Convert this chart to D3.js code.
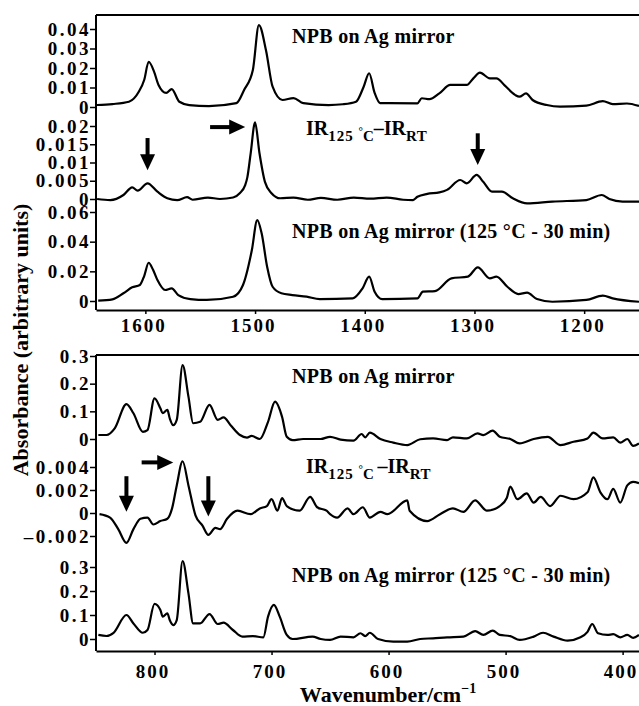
<!DOCTYPE html>
<html>
<head>
<meta charset="utf-8">
<script src="https://cdn.jsdelivr.net/npm/d3@7"></script>
<style>
  body { margin: 0; background: #fff; }
  svg text { font-family: "Liberation Serif", "Times New Roman", serif; font-weight: bold; fill: #000; }
</style>
</head>
<body>
<div id="spectra_dataviz"></div>
<script>
// spectra: [wavenumber, absorbance]

// upper panel (1645 - 1150 cm-1)
var npbTop = [
  [1645, 0.001], [1630, 0.0015], [1615, 0.0027], [1606, 0.0078], [1601, 0.014],
  [1597, 0.0232], [1592, 0.018], [1588, 0.0113], [1581, 0.0072], [1576, 0.0092],
  [1569, 0.0027], [1560, 0.001], [1542, 0.0005], [1517, 0.002], [1510, 0.0087],
  [1502, 0.019], [1496.5, 0.042], [1490, 0.029], [1484, 0.0104], [1475, 0.0036],
  [1465, 0.0046], [1456, 0.002], [1433, 0.001], [1420, 0.0014], [1408, 0.0027],
  [1401, 0.0104], [1396, 0.0173], [1391, 0.0072], [1386, 0.002], [1352, 0.0019],
  [1348, 0.0045], [1341, 0.004], [1332, 0.007], [1322, 0.0113], [1307, 0.0113],
  [1301, 0.0147], [1295, 0.0176], [1286, 0.0147], [1280, 0.0147], [1272, 0.0108],
  [1263, 0.0062], [1259, 0.0053], [1253, 0.007], [1247, 0.0036], [1234, 0.001],
  [1222, 0.0002], [1198, 0.0007], [1183, 0.003], [1174, 0.0015], [1161, 0.0018],
  [1150, 0.0005]
];
var diffTop = [
  [1644, 0], [1632, -0.0003], [1620, 0.0011], [1612, 0.0032], [1607, 0.0023],
  [1598, 0.0043], [1589, 0.002], [1580, 0.0002], [1571, -0.0003], [1562, 0.0005],
  [1557, -0.0002], [1543, 0.0004], [1532, 0], [1520, 0.0004], [1514, 0.0016],
  [1509, 0.0038], [1507, 0.006], [1504, 0.0125], [1500, 0.021], [1496, 0.0126],
  [1491, 0.0047], [1485, 0.0016], [1477, 0.0002], [1465, 0.0004], [1452, -0.0002],
  [1440, 0.0003], [1425, -0.0002], [1410, 0.0004], [1395, 0.0001], [1380, 0.0004],
  [1365, -0.0002], [1356, -0.0003], [1352, 0.0006], [1343, 0.0014], [1332, 0.0018],
  [1325, 0.0025], [1313, 0.0052], [1307, 0.0043], [1298, 0.0066], [1292, 0.0047],
  [1284, 0.002], [1275, 0.002], [1265, 0.0002], [1252, -0.0012], [1229, -0.0007],
  [1198, -0.0003], [1184, 0.0011], [1177, 0], [1165, -0.0007], [1150, -0.0007]
];
var heatTop = [
  [1643, 0.0002], [1630, 0.0011], [1620, 0.0052], [1612, 0.0092], [1605, 0.0108],
  [1601, 0.017], [1597, 0.0258], [1593, 0.021], [1589, 0.0141], [1582, 0.0074],
  [1576, 0.0085], [1570, 0.004], [1559, 0.0013], [1544, 0.0007], [1520, 0.0029],
  [1511, 0.0108], [1503, 0.034], [1498, 0.0545], [1494, 0.0456], [1489, 0.0231],
  [1484, 0.0096], [1476, 0.0052], [1466, 0.004], [1453, 0.0029], [1441, 0.0013],
  [1411, 0.0018], [1402, 0.0085], [1396, 0.0164], [1391, 0.0063], [1384, 0.0013],
  [1352, 0.0018], [1347, 0.0063], [1336, 0.0067], [1321, 0.0153], [1306, 0.0164],
  [1297, 0.0227], [1286, 0.0153], [1280, 0.0164], [1270, 0.0096], [1260, 0.0047],
  [1252, 0.0056], [1243, 0.0013], [1229, -0.0005], [1198, 0.0007], [1183, 0.0036],
  [1174, 0.0018], [1150, -0.0005]
];

// lower panel (850 - 386 cm-1)
var npbBot = [
  [848, 0.0144], [841, 0.0144], [834, 0.0385], [824, 0.126], [818, 0.093],
  [810, 0.026], [806, 0.032], [800, 0.147], [795, 0.111], [793, 0.093],
  [789, 0.105], [787, 0.075], [784, 0.05], [781, 0.069], [776, 0.267],
  [771, 0.153], [767, 0.057], [761, 0.062], [753, 0.123], [746, 0.069],
  [741, 0.078], [735, 0.05], [727, 0.0144], [721, 0.005], [717, 0.011],
  [710, 0], [703, 0.062], [697, 0.135], [691, 0.08], [687, 0.008],
  [682, -0.004], [673, 0], [658, 0], [650, 0.008], [641, -0.002],
  [630, -0.006], [623, 0.018], [620, 0.006], [616, 0.023], [607, 0],
  [596, -0.013], [584, -0.022], [573, -0.001], [562, 0.002], [550, -0.004],
  [545, 0.006], [533, 0.002], [524, 0.02], [519, 0.014], [511, 0.03],
  [505, 0.008], [496, 0], [488, -0.016], [476, 0], [464, 0.008],
  [453, -0.022], [442, -0.01], [430, 0.002], [425, 0.023], [417, 0.002],
  [408, 0.006], [402, -0.013], [396, 0], [391, -0.025], [386, -0.016]
];
var diffBot = [
  [847, -0.0001], [838, -0.0004], [831, -0.0014], [824, -0.0026], [818, -0.0014],
  [812, -0.0005], [806, -0.0004], [801, -0.001], [795, -0.0007], [789, -0.0005],
  [785, 0.0004], [781, 0.0024], [776, 0.0045], [771, 0.0024], [765, -0.0002],
  [759, -0.0011], [754, -0.0019], [748, -0.0013], [744, -0.0014], [738, -0.0005],
  [729, 0.0002], [718, -0.0001], [710, 0.0004], [704, 0.0006], [700, 0.0012],
  [695, 0.0002], [691, 0.0013], [687, 0.0006], [676, 0.0002], [667, 0.0014],
  [661, 0.0005], [653, 0.0002], [650, -0.0001], [644, -0.0004], [635, 0.0004],
  [630, -0.0001], [622, 0.0005], [616, -0.0004], [607, 0.0001], [601, -0.0001],
  [584, 0.0011], [582, 0.0002], [567, -0.0007], [556, -0.0001], [545, 0.0004],
  [536, 0.0001], [526, 0.0011], [516, 0.0002], [505, 0.0006], [499, 0.0013],
  [496, 0.0023], [490, 0.0012], [482, 0.0017], [476, 0.0009], [470, 0.0014],
  [462, 0.0006], [453, 0.0015], [442, 0.0012], [430, 0.0018], [425, 0.0031],
  [419, 0.0018], [413, 0.0012], [408, 0.0021], [402, 0.0009], [396, 0.0024],
  [391, 0.0027], [386, 0.0026]
];
var heatBot = [
  [848, 0.017], [841, 0.0125], [835, 0.026], [824, 0.1], [818, 0.065],
  [810, 0.026], [806, 0.0375], [800, 0.146], [795, 0.121], [793, 0.093],
  [789, 0.107], [787, 0.079], [784, 0.058], [781, 0.079], [776, 0.325],
  [771, 0.19], [767, 0.065], [761, 0.065], [753, 0.104], [746, 0.0625],
  [741, 0.068], [733, 0.0375], [725, 0.01], [716, 0.012], [707, 0.007],
  [703, 0.093], [698, 0.142], [693, 0.093], [687, 0.017], [682, 0],
  [665, 0.01], [658, 0], [650, -0.004], [641, 0.01], [630, 0.007],
  [624, 0.024], [620, 0.012], [616, 0.026], [609, 0], [596, -0.011],
  [584, -0.011], [573, 0], [562, 0.003], [550, 0.007], [536, 0.01],
  [526, 0.033], [519, 0.017], [511, 0.035], [505, 0.017], [496, 0.012],
  [488, -0.004], [476, 0.01], [468, 0.026], [459, 0.01], [447, -0.007],
  [436, 0.007], [430, 0.03], [426, 0.0625], [421, 0.024], [413, 0.017],
  [408, 0.02], [402, 0.007], [396, 0.017], [391, 0.005], [386, 0.017]
];

// tick labels
var xTicksTop = [1600, 1500, 1400, 1300, 1200];
var xTicksBot = [800, 700, 600, 500, 400];
var yTicksTop1 = [0, 0.01, 0.02, 0.03, 0.04];
var yTicksTop2 = [0, 0.005, 0.01, 0.015, 0.02];
var yTicksTop3 = [0, 0.02, 0.04, 0.06];
var yTicksBot1 = [0, 0.1, 0.2, 0.3];
var yTicksBot2 = [-0.002, 0, 0.002, 0.004];
var yTicksBot3 = [0, 0.1, 0.2, 0.3];

// arrows drawn on the difference traces (tail -> tip)
var arrowsTop = [
  { wn0: 1598, v0: 0.0167, wn1: 1598, v1: 0.0079 },
  { wn0: 1297, v0: 0.018, wn1: 1297, v1: 0.0093 },
  { wn0: 1541, v0: 0.0197, wn1: 1509, v1: 0.0197 }
];
var arrowsBot = [
  { wn0: 824, v0: 0.0032, wn1: 824, v1: 0.0001 },
  { wn0: 754, v0: 0.0032, wn1: 754, v1: -0.0003 },
  { wn0: 811, v0: 0.0044, wn1: 784, v1: 0.0044 }
];

var width = 639, height = 706;
var left = 96, right = 639;

var svg = d3
  .select("#spectra_dataviz")
  .append("svg")
  .attr("width", width)
  .attr("height", height);

svg.append("defs")
  .append("clipPath")
  .attr("id", "plotclip")
  .append("rect")
  .attr("x", left + 1)
  .attr("y", 0)
  .attr("width", right - left)
  .attr("height", height);

// two panels, each with three stacked traces
var panels = [
  {
    x: d3.scaleLinear().domain([1645, 1150]).range([left, right]),
    xTicks: xTicksTop, top: 15, bottom: 310, labelPad: 5,
    arrows: arrowsTop, arrowSub: 1, degSpace: "",
    subs: [
      { data: npbTop, domain: [0, 0.04], range: [107, 29], ticks: yTicksTop1 },
      { data: diffTop, domain: [0, 0.02], range: [199, 126], ticks: yTicksTop2 },
      { data: heatTop, domain: [0, 0.06], range: [301, 212], ticks: yTicksTop3 }
    ],
    labels: [43, 135, 238]
  },
  {
    x: d3.scaleLinear().domain([850, 386]).range([left, right]),
    xTicks: xTicksBot, top: 355, bottom: 651, labelPad: 10,
    arrows: arrowsBot, arrowSub: 1, degSpace: " ",
    subs: [
      { data: npbBot, domain: [0, 0.3], range: [439, 356], ticks: yTicksBot1 },
      { data: diffBot, domain: [-0.002, 0.004], range: [536, 467], ticks: yTicksBot2 },
      { data: heatBot, domain: [0, 0.3], range: [639, 567], ticks: yTicksBot3 }
    ],
    labels: [383, 473, 582]
  }
];

var fmt = function (d) {
  return d === 0 ? "0" : String(d).replace("-", "\u2013");
};

function drawArrow(g, x0, y0, x1, y1) {
  var len = Math.hypot(x1 - x0, y1 - y0);
  var ux = (x1 - x0) / len, uy = (y1 - y0) / len;
  var hl = 16, hw = 7.5;
  var bx = x1 - ux * hl, by = y1 - uy * hl;
  g.append("line")
    .attr("x1", x0).attr("y1", y0)
    .attr("x2", bx + ux * 2).attr("y2", by + uy * 2)
    .style("stroke", "#000")
    .style("stroke-width", 4);
  g.append("path")
    .attr("d", "M" + x1 + "," + y1 +
      "L" + (bx - uy * hw) + "," + (by + ux * hw) +
      "L" + (bx + uy * hw) + "," + (by - ux * hw) + "Z")
    .style("fill", "#000");
}

panels.forEach(function (p) {
  var g = svg.append("g");

  // frame: top border, left axis line
  g.append("line")
    .attr("x1", left).attr("x2", right)
    .attr("y1", p.top).attr("y2", p.top)
    .style("stroke", "#000").style("stroke-width", 2);
  g.append("line")
    .attr("x1", left).attr("x2", left)
    .attr("y1", p.top).attr("y2", p.bottom)
    .style("stroke", "#000").style("stroke-width", 2);

  // x axis
  var xa = g.append("g")
    .attr("transform", "translate(0," + p.bottom + ")")
    .call(d3.axisBottom(p.x).tickValues(p.xTicks).tickFormat(d3.format("d"))
      .tickSize(4).tickSizeOuter(0).tickPadding(p.labelPad));
  xa.select(".domain").style("stroke-width", 2);
  xa.selectAll("line").style("stroke-width", 1.5);
  xa.selectAll("text")
    .attr("dx", -2)
    .style("font-size", "19px")
    .style("letter-spacing", "2px");

  p.subs.forEach(function (s) {
    var y = d3.scaleLinear().domain(s.domain).range(s.range);
    s.y = y;

    // y axis for this trace
    var ya = g.append("g")
      .attr("transform", "translate(" + left + ",0)")
      .call(d3.axisLeft(y).tickValues(s.ticks).tickFormat(fmt).tickSize(6).tickSizeOuter(0).tickPadding(-1));
    ya.select(".domain").remove();
    ya.selectAll("line").style("stroke-width", 1.5);
    ya.selectAll("text")
      .style("font-size", "19px")
      .style("letter-spacing", "2.5px");

    // the spectrum
    var line = d3.line()
      .x(function (d) { return p.x(d[0]); })
      .y(function (d) { return y(d[1]); })
      .curve(d3.curveMonotoneX);
    g.append("path")
      .datum(s.data)
      .attr("clip-path", "url(#plotclip)")
      .attr("d", line)
      .style("fill", "none")
      .style("stroke", "#000")
      .style("stroke-width", 2.2)
      .style("stroke-linejoin", "round");
  });

  // arrows
  var ay = p.subs[p.arrowSub].y;
  p.arrows.forEach(function (a) {
    drawArrow(g, p.x(a.wn0), ay(a.v0), p.x(a.wn1), ay(a.v1));
  });

  // trace labels
  g.append("text")
    .attr("x", 292).attr("y", p.labels[0])
    .style("font-size", "20px")
    .style("letter-spacing", "0.3px")
    .text("NPB on Ag mirror");

  var ir = g.append("text")
    .attr("x", 306).attr("y", p.labels[1])
    .style("font-size", "20px");
  ir.append("tspan").text("IR");
  ir.append("tspan").attr("dy", 6).style("font-size", "15px").style("letter-spacing", "1px").text("125 ");
  ir.append("tspan").attr("dy", -6).style("font-size", "11px").text("\u00b0");
  ir.append("tspan").attr("dy", 6).style("font-size", "15px").text("C" + p.degSpace);
  ir.append("tspan").attr("dy", -6).style("font-size", "20px").text("\u2013IR");
  ir.append("tspan").attr("dy", 6).style("font-size", "15px").style("letter-spacing", "0.5px").text("RT");

  g.append("text")
    .attr("x", 292).attr("y", p.labels[2])
    .style("font-size", "20px")
    .style("letter-spacing", "0.3px")
    .text("NPB on Ag mirror (125 \u00b0C - 30 min)");
});

// axis titles
svg.append("text")
  .attr("transform", "translate(28,340)rotate(-90)")
  .attr("text-anchor", "middle")
  .style("font-size", "22px")
  .text("Absorbance (arbitrary units)");

var xt = svg.append("text")
  .attr("x", 388).attr("y", 702)
  .attr("text-anchor", "middle")
  .style("font-size", "22px");
xt.append("tspan").text("Wavenumber/cm");
xt.append("tspan").attr("dy", -9).style("font-size", "14px").text("\u22121");
</script>
</body>
</html>
